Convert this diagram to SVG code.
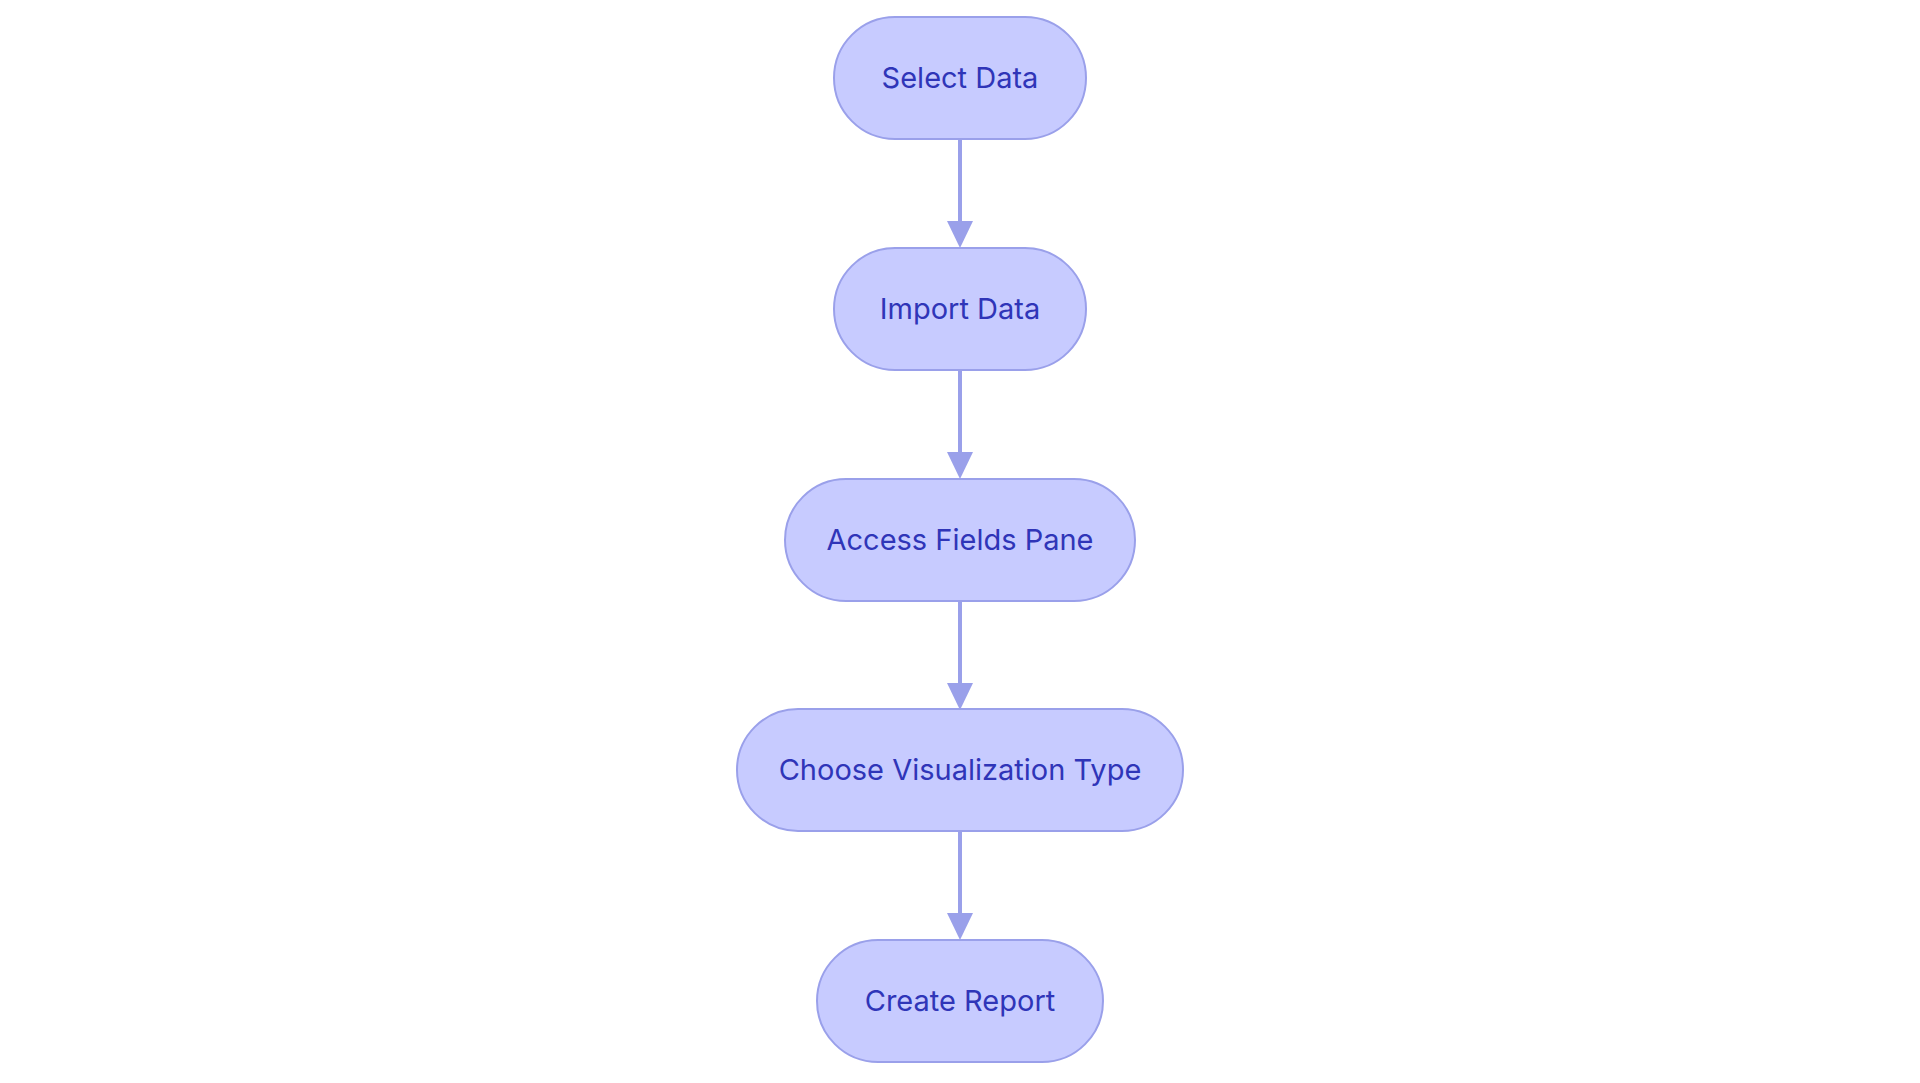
<svg xmlns="http://www.w3.org/2000/svg" width="1920" height="1083" viewBox="0 0 1920 1083">
<style>
.n rect{fill:#c7cbff;stroke:#9aa0ea;stroke-width:2}
.n text{font-family:Inter,"Noto Sans",sans-serif;font-size:29px;fill:#2f35b8;text-anchor:middle;dominant-baseline:central}
.e{stroke:#9aa0ea;stroke-width:4;fill:none}
</style>
<defs><marker id="a" markerUnits="userSpaceOnUse" markerWidth="28" markerHeight="28" refX="13" refY="27" orient="auto" viewBox="0 0 26 28"><path d="M0,0 L26,0 L13,27 Z" fill="#9aa0ea"/></marker></defs>
<rect width="1920" height="1083" fill="#fff"/>
<g id="edges">
<line class="e" x1="960" y1="139" x2="960" y2="221"/><path d="M947,221 L973,221 L960,248 Z" fill="#9aa0ea"/>
<line class="e" x1="960" y1="370" x2="960" y2="452"/><path d="M947,452 L973,452 L960,479 Z" fill="#9aa0ea"/>
<line class="e" x1="960" y1="601" x2="960" y2="683"/><path d="M947,683 L973,683 L960,710 Z" fill="#9aa0ea"/>
<line class="e" x1="960" y1="831" x2="960" y2="913"/><path d="M947,913 L973,913 L960,940 Z" fill="#9aa0ea"/>
</g>
<g id="n1" class="n"><rect x="834" y="17" width="252" height="122" rx="61"/><text x="960" y="77">Select Data</text></g>
<g id="n2" class="n"><rect x="834" y="248" width="252" height="122" rx="61"/><text x="960" y="308">Import Data</text></g>
<g id="n3" class="n"><rect x="785" y="479" width="350" height="122" rx="61"/><text x="960" y="539">Access Fields Pane</text></g>
<g id="n4" class="n"><rect x="737" y="709" width="446" height="122" rx="61"/><text x="960" y="769">Choose Visualization Type</text></g>
<g id="n5" class="n"><rect x="817" y="940" width="286" height="122" rx="61"/><text x="960" y="1000">Create Report</text></g>
</svg>
